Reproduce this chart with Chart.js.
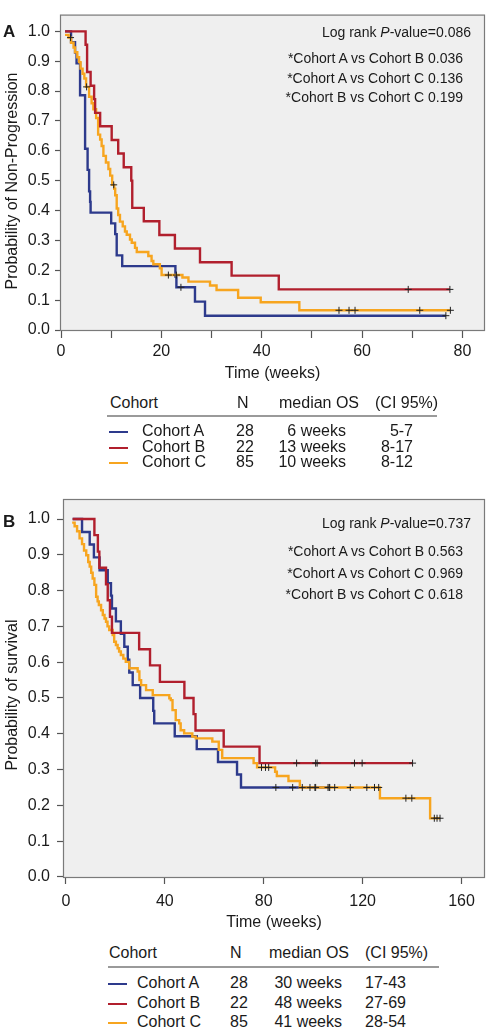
<!DOCTYPE html>
<html>
<head>
<meta charset="utf-8">
<script src="https://cdn.jsdelivr.net/npm/chart.js@4.4.1/dist/chart.umd.min.js"></script>
<style>
  body { margin: 0; width: 490px; height: 1030px; position: relative; overflow: hidden; background: #fff;
         font-family: "Liberation Sans", Arial, sans-serif; color: #1a1a1a; }
  canvas { position: absolute; left: 0; }
  .t { position: absolute; white-space: nowrap; }
</style>
</head>
<body>
<canvas id="chartA" width="490" height="390" style="top:0"></canvas>
<canvas id="chartB" width="490" height="480" style="top:460px"></canvas>
<script>
// ---- Panel A: progression-free (weeks, probability) ----
const aTimesA = [0.8, 2.0, 2.8, 3.1, 3.8, 4.8, 5.3, 5.6, 5.8, 5.9, 10.0, 10.8, 11.1, 12.2, 22.8, 23.0, 26.7, 28.7];
const aSurvA  = [1.0, 0.964, 0.929, 0.893, 0.786, 0.607, 0.536, 0.464, 0.429, 0.393, 0.357, 0.321, 0.25, 0.214, 0.179, 0.143, 0.095, 0.048];
const aCensA  = [23.9, 76.7];

const aTimesB = [0.8, 4.9, 5.2, 5.9, 6.6, 6.8, 7.8, 10.1, 11.4, 12.5, 14.0, 14.2, 16.5, 19.6, 22.7, 27.7, 34.0, 43.4];
const aSurvB  = [1.0, 0.955, 0.864, 0.818, 0.773, 0.727, 0.682, 0.636, 0.591, 0.545, 0.5, 0.409, 0.364, 0.318, 0.273, 0.227, 0.182, 0.136];
const aCensB  = [69.2, 77.5];

const aTimesC = [0.8, 1.5, 2.0, 2.5, 2.8, 3.25, 3.6, 3.9, 4.3, 4.65, 5.0, 5.6, 6.1, 6.45, 7.0, 7.4, 7.8, 8.1, 8.45, 8.95,
                 9.45, 9.8, 10.2, 10.6, 10.8, 11.1, 11.4, 11.75, 12.3, 12.75, 13.1, 13.75, 14.1, 14.75, 15.1, 17.4, 18.05, 18.4, 19.7, 20.05,
                 24.2, 25.4, 29.7, 31.0, 35.3, 39.8, 47.5];
const aSurvC  = [0.988, 0.979, 0.962, 0.946, 0.930, 0.913, 0.897, 0.875, 0.858, 0.842, 0.814, 0.781, 0.759, 0.739, 0.710, 0.654, 0.638, 0.616, 0.583, 0.561,
                 0.539, 0.517, 0.486, 0.473, 0.451, 0.407, 0.385, 0.363, 0.347, 0.330, 0.319, 0.303, 0.292, 0.275, 0.261, 0.248, 0.231, 0.220, 0.207, 0.184,
                 0.176, 0.162, 0.149, 0.134, 0.108, 0.093, 0.066];
const aCensC  = [1.9, 5.1, 10.5, 21.4, 23.0, 55.4, 57.4, 58.6, 71.5, 77.6];

// ---- Panel B: survival ----
const bTimesA = [2.7, 6.5, 9.6, 11.3, 13.6, 16.9, 18.2, 18.6, 20.2, 22.2, 23.6, 25.0, 25.6, 27.0, 30.0, 35.3, 35.7, 44.0, 52.9, 61.5, 69.2, 70.8];
const bSurvA  = [1.0, 0.964, 0.929, 0.893, 0.857, 0.821, 0.786, 0.75, 0.714, 0.679, 0.643, 0.607, 0.571, 0.536, 0.5, 0.464, 0.429, 0.393, 0.357, 0.321, 0.286, 0.25];
const bCensA  = [84.9, 91.7, 101.0, 106.5];

const bTimesB = [2.7, 11.5, 12.9, 13.5, 16.2, 16.9, 17.8, 18.6, 29.6, 34.0, 38.0, 47.9, 51.6, 52.4, 63.8, 78.3];
const bSurvB  = [1.0, 0.955, 0.909, 0.864, 0.818, 0.773, 0.727, 0.682, 0.636, 0.591, 0.545, 0.5, 0.455, 0.409, 0.364, 0.318];
const bCensB  = [93.3, 101.0, 101.6, 116.7, 119.8, 140.2];

const bTimesC = [2.5, 3.5, 4.5, 5.5, 6.5, 7.3, 8.2, 9.0, 9.6, 10.2, 10.8, 11.5, 12.2, 12.8, 13.3, 14.2, 14.9, 15.6, 16.2, 16.8,
                 17.5, 18.9, 19.5, 20.2, 20.9, 21.5, 22.2, 23.2, 24.2, 25.6, 29.0, 29.7, 30.4, 32.4, 35.1, 41.8, 42.4, 43.1, 44.4, 45.8,
                 46.4, 47.8, 51.1, 52.5, 59.2, 61.8, 63.2, 75.9, 77.3, 84.6, 85.3, 90.0, 94.6, 127.0, 147.3];
const bSurvC  = [0.99, 0.98, 0.966, 0.946, 0.93, 0.912, 0.899, 0.88, 0.867, 0.85, 0.834, 0.816, 0.783, 0.77, 0.76, 0.745, 0.732, 0.722, 0.713, 0.70,
                 0.69, 0.676, 0.657, 0.648, 0.639, 0.63, 0.62, 0.61, 0.601, 0.583, 0.574, 0.55, 0.536, 0.522, 0.508, 0.499, 0.494, 0.466, 0.438, 0.429,
                 0.41, 0.401, 0.392, 0.387, 0.378, 0.355, 0.332, 0.318, 0.306, 0.294, 0.282, 0.268, 0.25, 0.22, 0.164];
const bCensC  = [79.1, 80.7, 82.0, 95.6, 98.7, 100.7, 106.0, 106.7, 108.7, 115.0, 121.7, 124.8, 126.5, 137.5, 139.9, 149.0, 150.1, 151.3];

// axis ticks
const yTicks = [0, 0.1, 0.2, 0.3, 0.4, 0.5, 0.6, 0.7, 0.8, 0.9, 1.0];
const xTicksA = [0, 10, 20, 30, 40, 50, 60, 70, 80];
const xLabelsA = [0, 20, 40, 60, 80];
const xTicksB = [0, 40, 80, 120, 160];

// table text
const cohortNames = ['Cohort A', 'Cohort B', 'Cohort C'];
const cohortN = ['28', '22', '85'];
const medianA = ['6 weeks', '13 weeks', '10 weeks'];
const ciA = ['5-7', '8-17', '8-12'];
const medianB = ['30 weeks', '48 weeks', '41 weeks'];
const ciB = ['17-43', '27-69', '28-54'];
const pairsA = ['*Cohort A vs Cohort B 0.036', '*Cohort A vs Cohort C 0.136', '*Cohort B vs Cohort C 0.199'];
const pairsB = ['*Cohort A vs Cohort B 0.563', '*Cohort A vs Cohort C 0.969', '*Cohort B vs Cohort C 0.618'];

const colors = ['#2d3a8c', '#b11f2d', '#f7a51f'];

Chart.defaults.font.family = '"Liberation Sans", Arial, sans-serif';
Chart.defaults.font.size = 16;
Chart.defaults.color = '#1a1a1a';

function survAt(times, surv, t) {
  let s = surv[0];
  for (let i = 0; i < times.length; i++) if (times[i] <= t) s = surv[i];
  return s;
}

function curve(times, surv, cens) {
  const pts = times.map((t, i) => ({x: t, y: surv[i]}));
  const last = Math.max(...cens);
  if (last > times[times.length - 1]) pts.push({x: last, y: surv[surv.length - 1]});
  return pts;
}

const boxPlugin = {
  id: 'box',
  beforeDraw(chart) {
    const a = chart.chartArea, ctx = chart.ctx;
    ctx.save();
    ctx.fillStyle = '#efefef';
    ctx.fillRect(a.left, a.top, a.right - a.left, a.bottom - a.top);
    ctx.restore();
  },
  afterDraw(chart) {
    const a = chart.chartArea, ctx = chart.ctx;
    ctx.save();
    ctx.strokeStyle = '#7a7a7a';
    ctx.lineWidth = 1.2;
    ctx.strokeRect(a.left + 0.5, a.top + 0.5, a.right - a.left - 1, a.bottom - a.top - 1);
    ctx.restore();
  }
};

function makePanel(id, series, p) {
  const datasets = [];
  series.forEach((s, i) => {
    datasets.push({
      data: s.cens.map(t => ({x: t, y: survAt(s.times, s.surv, t)})),
      showLine: false, pointStyle: 'cross', pointRadius: 3.5, borderColor: '#222', borderWidth: 1
    });
  });
  // red on top, then orange, then blue
  [1, 2, 0].forEach(i => {
    const s = series[i];
    datasets.push({
      data: curve(s.times, s.surv, s.cens), showLine: true, stepped: true,
      borderColor: colors[i], borderWidth: 2.4, pointRadius: 0, fill: false
    });
  });
  return new Chart(document.getElementById(id), {
    type: 'scatter',
    data: {datasets: datasets},
    options: {
      responsive: false, animation: false, devicePixelRatio: 1, events: [],
      layout: {padding: {left: 0, right: p.padRight, top: p.padTop, bottom: 0}},
      plugins: {legend: {display: false}, tooltip: {enabled: false}},
      scales: {
        x: {
          type: 'linear', min: p.xMin, max: p.xMax,
          afterBuildTicks: s => { s.ticks = p.xTicks.map(v => ({value: v})); },
          afterFit: s => { s.height = p.xHeight; },
          ticks: {autoSkip: false, maxRotation: 0, padding: p.xPad,
                  callback: v => (p.xLabels.includes(v) ? String(v) : '')},
          grid: {drawOnChartArea: false, tickLength: p.xTick, tickColor: '#555', tickWidth: 1.2},
          border: {display: false},
          title: {display: true, text: 'Time (weeks)', padding: {top: 0, bottom: p.titlePad}}
        },
        y: {
          min: p.yMin, max: p.yMax,
          afterBuildTicks: s => { s.ticks = yTicks.map(v => ({value: v})); },
          afterFit: s => { s.width = p.yWidth; },
          ticks: {padding: p.yPad, callback: v => v.toFixed(1)},
          grid: {drawOnChartArea: false, tickLength: p.yTick, tickColor: '#555', tickWidth: 1.2},
          border: {display: false}
        }
      }
    },
    plugins: [boxPlugin]
  });
}

makePanel('chartA', [
  {times: aTimesA, surv: aSurvA, cens: aCensA},
  {times: aTimesB, surv: aSurvB, cens: aCensB},
  {times: aTimesC, surv: aSurvC, cens: aCensC}
], {xMin: -0.2, xMax: 84.5, xTicks: xTicksA, xLabels: xLabelsA, yMin: -0.0033, yMax: 1.056,
    padTop: 10, padRight: 5, xHeight: 59, yWidth: 60, xTick: 7, yTick: 5, xPad: 4, yPad: 5, titlePad: 7});

makePanel('chartB', [
  {times: bTimesA, surv: bSurvA, cens: bCensA},
  {times: bTimesB, surv: bSurvB, cens: bCensB},
  {times: bTimesC, surv: bSurvC, cens: bCensC}
], {xMin: -1.2, xMax: 169.5, xTicks: xTicksB, xLabels: xTicksB, yMin: -0.003, yMax: 1.056,
    padTop: 39, padRight: 2, xHeight: 62, yWidth: 63, xTick: 6, yTick: 6, xPad: 8, yPad: 7, titlePad: 8});

// ---- text overlays ----
function put(html, x, cy, size, opts) {
  opts = opts || {};
  const d = document.createElement('div');
  d.className = 't';
  d.innerHTML = html;
  d.style.fontSize = size + 'px';
  d.style.lineHeight = size + 'px';
  d.style.top = (cy - size / 2) + 'px';
  if (opts.right) d.style.right = (490 - x) + 'px';
  else d.style.left = x + 'px';
  if (opts.bold) d.style.fontWeight = 'bold';
  document.body.appendChild(d);
  return d;
}

function yTitle(text, cx, cy) {
  const d = document.createElement('div');
  d.className = 't';
  d.textContent = text;
  d.style.fontSize = '16px';
  d.style.lineHeight = '16px';
  d.style.width = '300px';
  d.style.textAlign = 'center';
  d.style.left = (cx - 150) + 'px';
  d.style.top = (cy - 8) + 'px';
  d.style.transform = 'rotate(-90deg)';
  document.body.appendChild(d);
}

function rule(x1, x2, y, color, h) {
  const d = document.createElement('div');
  d.style.position = 'absolute';
  d.style.left = x1 + 'px';
  d.style.width = (x2 - x1) + 'px';
  d.style.top = (y - h / 2) + 'px';
  d.style.height = h + 'px';
  d.style.background = color;
  document.body.appendChild(d);
}

put('A', 3, 31, 17, {bold: true});
put('B', 3, 521, 17, {bold: true});
yTitle('Probability of Non-Progression', 12, 181);
yTitle('Probability of survival', 12, 695);

put('Log rank <i>P</i>-value=0.086', 471, 32, 14, {right: true});
pairsA.forEach((s, i) => put(s, 463, [58, 77.5, 97][i], 14, {right: true}));
put('Log rank <i>P</i>-value=0.737', 471, 523, 14, {right: true});
pairsB.forEach((s, i) => put(s, 463, [551, 572.5, 594][i], 14, {right: true}));

// table A
put('Cohort', 110, 403, 16); put('N', 237, 403, 16); put('median OS', 279, 403, 16); put('(CI 95%)', 375, 403, 16);
rule(107, 437, 416, '#9a9a9a', 2);
[431, 447, 462].forEach((y, i) => {
  rule(109, 128, y + 1, colors[i], 2.5);
  put(cohortNames[i], 142, y, 16);
  put(cohortN[i], 236, y, 16);
  put(medianA[i], 346, y, 16, {right: true});
  put(ciA[i], 413, y, 16, {right: true});
});

// table B
put('Cohort', 109, 953, 16); put('N', 230, 953, 16); put('median OS', 269, 953, 16); put('(CI 95%)', 365, 953, 16);
rule(108, 439, 967, '#9a9a9a', 2);
[983, 1003, 1022].forEach((y, i) => {
  rule(108, 127, y + 1, colors[i], 2.5);
  put(cohortNames[i], 137, y, 16);
  put(cohortN[i], 230, y, 16);
  put(medianB[i], 342, y, 16, {right: true});
  put(ciB[i], 365, y, 16);
});
</script>
</body>
</html>
